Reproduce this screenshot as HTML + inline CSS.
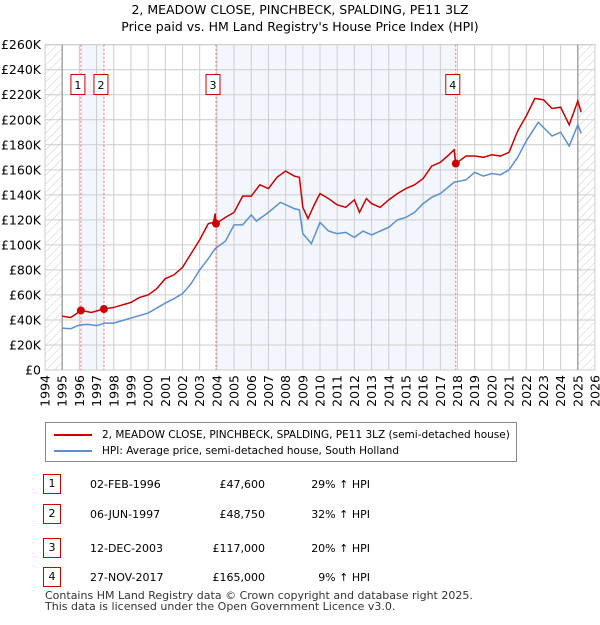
<!DOCTYPE html>
<html><head><meta charset="utf-8"><style>
body{margin:0;background:#fff;font-family:"Liberation Sans","DejaVu Sans",sans-serif;}
svg text{font-family:"DejaVu Sans","Liberation Sans",sans-serif;}
div{white-space:nowrap;}
</style></head><body>
<svg id="c" width="600" height="620" xmlns="http://www.w3.org/2000/svg">
<defs><pattern id="hatch" width="6" height="6" patternUnits="userSpaceOnUse" patternTransform="rotate(45)"><line x1="0" y1="0" x2="0" y2="6" stroke="#ccc" stroke-width="1"/></pattern></defs>
<text x="300" y="14" text-anchor="middle" font-size="12.5">2, MEADOW CLOSE, PINCHBECK, SPALDING, PE11 3LZ</text>
<text x="300" y="31" text-anchor="middle" font-size="12.5">Price paid vs. HM Land Registry's House Price Index (HPI)</text>
<g id="plot"></g>
</svg>
<script>
const yTicks=[0,20,40,60,80,100,120,140,160,180,200,220,240,260];
const xTicks=[1994,1995,1996,1997,1998,1999,2000,2001,2002,2003,2004,2005,2006,2007,2008,2009,2010,2011,2012,2013,2014,2015,2016,2017,2018,2019,2020,2021,2022,2023,2024,2025,2026];
const hpiT=[1995,1995.5,1996,1996.5,1997,1997.5,1998,1999,2000,2001,2001.5,2002,2002.5,2003,2003.5,2003.9,2004.5,2005,2005.5,2006,2006.3,2007,2007.7,2008.5,2008.8,2009.0,2009.5,2010,2010.5,2011,2011.5,2012,2012.5,2013,2013.5,2014,2014.5,2015,2015.5,2016,2016.5,2017,2017.8,2018.5,2019,2019.5,2020,2020.5,2021,2021.5,2022,2022.7,2023.5,2024,2024.5,2025,2025.2];
const hpiV=[33.5,33,36,36.5,35.5,37.5,37.5,41.5,45.5,53.5,57,61,69,80,89,97,103,116,116,124,119,126,134,129,128,109,101,118,111,109,110,106,111,108,111,114,120,122,126,133,138,141,150,152,158,155,157,156,160,170,183,198,187,190,179,196,189];
const redT=[1995,1995.5,1996.1,1996.7,1997.4,1998,1999,1999.5,2000,2000.5,2001,2001.5,2002,2002.5,2003,2003.5,2003.8,2003.9,2003.95,2004.5,2005,2005.5,2006,2006.5,2007,2007.5,2008,2008.5,2008.8,2009.0,2009.3,2009.7,2010,2010.5,2011,2011.5,2012,2012.3,2012.7,2013,2013.5,2014,2014.5,2015,2015.5,2016,2016.5,2017,2017.5,2017.8,2017.9,2018.5,2019,2019.5,2020,2020.5,2021,2021.5,2022,2022.5,2023,2023.5,2024,2024.5,2025,2025.2];
const redV=[43,42,47.6,46,48.75,50,54,58,60,65,73,76,82,93,104,117,118,125,117,122,126,139,139,148,145,154,159,155,154,130,121,133,141,137,132,130,136,126,137,133,130,136,141,145,148,153,163,166,172,176,165,171,171,170,172,171,174,191,203,217,216,209,210,196,215,206];
const salesT=[1996.09,1997.43,2003.95,2017.9];
const salesV=[47.6,48.75,117,165];
const salesLbl=["1","2","3","4"];
const L=45,R=595,T=44.7,B=370;
const X=t=>L+(t-1994)*(R-L)/32, Y=v=>B-v*(B-T)/260;
const NS="http://www.w3.org/2000/svg", g=document.getElementById('plot');
function el(tag,a,txt){const e=document.createElementNS(NS,tag);for(const k in a)e.setAttribute(k,a[k]);if(txt!==undefined)e.textContent=txt;g.appendChild(e);return e;}
let e;
e=el('rect',{x:L,y:T,width:R-L,height:B-T,fill:'#fff',stroke:'#ccc'});


e=el('rect',{x:X(salesT[0]),y:T,width:X(salesT[1])-X(salesT[0]),height:B-T,fill:'#eef3fc',opacity:0.7});


e=el('rect',{x:X(salesT[2]),y:T,width:X(salesT[3])-X(salesT[2]),height:B-T,fill:'#eef3fc',opacity:0.7});


e=el('rect',{x:L,y:T,width:X(1995)-L,height:B-T,fill:'url(#hatch)'});


e=el('rect',{x:X(2025),y:T,width:R-X(2025),height:B-T,fill:'url(#hatch)'});


yTicks.forEach(v=>{
 e=el('line',{x1:L,x2:R,y1:Y(v),y2:Y(v),stroke:'#ccc'});
 
 
 e=el('text',{x:L-4,y:Y(v)+4.5,'text-anchor':'end','font-size':12.5},v===0?'£0':'£'+v+'K');
 
 
});
xTicks.forEach(t=>{
 e=el('line',{x1:X(t),x2:X(t),y1:T,y2:B,stroke:'#ccc'});
 
 
 e=el('text',{x:0,y:0,'text-anchor':'end','font-size':12.5,transform:`translate(${X(t)+4.5},${B+5}) rotate(-90)`},String(t));
 
 
});
e=el('line',{x1:X(1995),x2:X(1995),y1:T,y2:B,stroke:'#999','stroke-width':1.3});


e=el('line',{x1:X(2025),x2:X(2025),y1:T,y2:B,stroke:'#999','stroke-width':1.3});


salesT.forEach((t,i)=>{
 e=el('line',{x1:X(t),x2:X(t),y1:T,y2:B,stroke:'#f07070','stroke-dasharray':'2,2'});
 
 
 e=el('rect',{x:X(t)-10,y:74.5,width:14,height:20,fill:'#fff',stroke:'#c00'});
 
 
 e=el('text',{x:X(t)-3,y:89,'text-anchor':'middle','font-size':11},salesLbl[i]);
 
 
});
e=el('polyline',{points:hpiT.map((t,i)=>X(t)+','+Y(hpiV[i])).join(' '),fill:'none',stroke:'#5b8fd4','stroke-width':1.5});


e=el('polyline',{points:redT.map((t,i)=>X(t)+','+Y(redV[i])).join(' '),fill:'none',stroke:'#cc0000','stroke-width':1.5});


salesT.forEach((t,i)=>{
 e=el('circle',{cx:X(t),cy:Y(salesV[i]),r:4,fill:'#cc0000'});
 
 
});
</script>
<div style="position:absolute;left:45px;top:422px;width:470px;height:38px;border:1px solid #888;font-size:10.5px;font-family:'DejaVu Sans','Liberation Sans',sans-serif;">
 <div style="position:absolute;left:8px;top:6px;"><span style="display:inline-block;width:38px;border-top:2px solid #c00;vertical-align:middle;margin-right:10px;"></span>2, MEADOW CLOSE, PINCHBECK, SPALDING, PE11 3LZ (semi-detached house)</div>
 <div style="position:absolute;left:8px;top:22px;"><span style="display:inline-block;width:38px;border-top:2px solid #5b8fd4;vertical-align:middle;margin-right:10px;"></span>HPI: Average price, semi-detached house, South Holland</div>
</div>
<div style="position:absolute;left:0;top:0;font-size:11px;font-family:'DejaVu Sans','Liberation Sans',sans-serif;">
 <div style="position:absolute;left:43px;top:474px;width:16px;height:18px;border:1px solid #c00;text-align:center;line-height:18px;">1</div>
 <div style="position:absolute;left:90px;top:478px;">02-FEB-1996</div><div style="position:absolute;left:205px;top:478px;width:60px;text-align:right;">£47,600</div><div style="position:absolute;left:300px;top:478px;width:70px;text-align:right;">29% ↑ HPI</div>
 <div style="position:absolute;left:43px;top:504px;width:16px;height:18px;border:1px solid #c00;text-align:center;line-height:18px;">2</div>
 <div style="position:absolute;left:90px;top:508px;">06-JUN-1997</div><div style="position:absolute;left:205px;top:508px;width:60px;text-align:right;">£48,750</div><div style="position:absolute;left:300px;top:508px;width:70px;text-align:right;">32% ↑ HPI</div>
 <div style="position:absolute;left:43px;top:538px;width:16px;height:18px;border:1px solid #c00;text-align:center;line-height:18px;">3</div>
 <div style="position:absolute;left:90px;top:542px;">12-DEC-2003</div><div style="position:absolute;left:205px;top:542px;width:60px;text-align:right;">£117,000</div><div style="position:absolute;left:300px;top:542px;width:70px;text-align:right;">20% ↑ HPI</div>
 <div style="position:absolute;left:43px;top:567px;width:16px;height:18px;border:1px solid #c00;text-align:center;line-height:18px;">4</div>
 <div style="position:absolute;left:90px;top:571px;">27-NOV-2017</div><div style="position:absolute;left:205px;top:571px;width:60px;text-align:right;">£165,000</div><div style="position:absolute;left:300px;top:571px;width:70px;text-align:right;">9% ↑ HPI</div>
</div>
<div style="position:absolute;left:45px;top:590px;font-size:11px;line-height:11px;color:#333;font-family:'DejaVu Sans','Liberation Sans',sans-serif;">Contains HM Land Registry data © Crown copyright and database right 2025.<br>This data is licensed under the Open Government Licence v3.0.</div>
</body></html>
